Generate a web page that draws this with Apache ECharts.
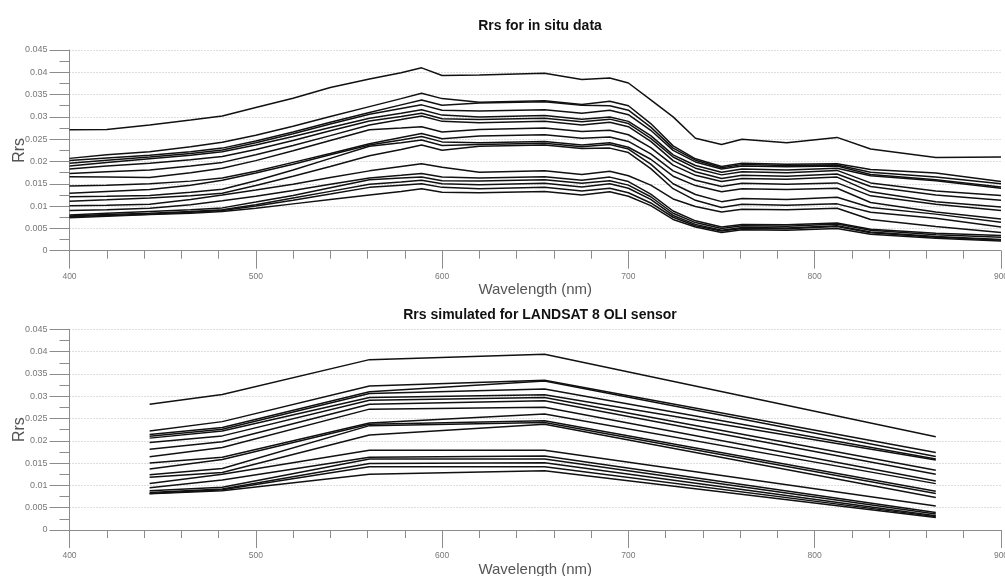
<!DOCTYPE html>
<html>
<head>
<meta charset="utf-8">
<script src="https://cdn.jsdelivr.net/npm/echarts@6/dist/echarts.min.js"></script>
<style>
html,body{margin:0;padding:0;background:#fff;}
#chart{width:1005px;height:576px;}
</style>
</head>
<body>
<div id="chart"></div>
<script>
// ---- Data ----
const titleTop = 'Rrs for in situ data';
const titleBottom = 'Rrs simulated for LANDSAT 8 OLI sensor';
const xName = 'Wavelength (nm)';
const yName = 'Rrs';

// in situ spectra: wavelengths (nm)
const wavelengths = [400,420,443,465,482,500,520,540,561,578,589,600,620,655,675,690,700,712,724,736,750,761,785,812,830,865,900];
const spec01 = [.0271,.0272,.0282,.0293,.0302,.0321,.0342,.0366,.0385,.0399,.0410,.0393,.0394,.0398,.0384,.0387,.0376,.0338,.0300,.0252,.0238,.0250,.0242,.0254,.0228,.0209,.0210];
const spec02 = [.0207,.0215,.0222,.0233,.0243,.0259,.0279,.0301,.0323,.0341,.0353,.0341,.0333,.0336,.0328,.0335,.0325,.0285,.0235,.0206,.0189,.0196,.0194,.0195,.0182,.0174,.0155];
const spec03 = [.0202,.0208,.0214,.0222,.0230,.0246,.0266,.0288,.0310,.0327,.0338,.0326,.0331,.0334,.0326,.0325,.0315,.0277,.0230,.0203,.0186,.0193,.0191,.0192,.0176,.0165,.0150];
const spec04 = [.0196,.0203,.0210,.0218,.0226,.0242,.0262,.0284,.0306,.0319,.0327,.0315,.0313,.0316,.0308,.0315,.0305,.0270,.0225,.0199,.0183,.0190,.0188,.0190,.0171,.0159,.0143];
const spec05 = [.0190,.0198,.0206,.0214,.0222,.0237,.0256,.0276,.0297,.0308,.0316,.0304,.0300,.0303,.0295,.0300,.0290,.0258,.0215,.0191,.0176,.0183,.0181,.0185,.0168,.0157,.0140];
const spec06 = [.0183,.0190,.0196,.0204,.0211,.0227,.0247,.0269,.0291,.0301,.0308,.0296,.0294,.0297,.0289,.0295,.0285,.0252,.0210,.0185,.0170,.0177,.0175,.0180,.0152,.0134,.0124];
const spec07 = [.0173,.0177,.0181,.0190,.0198,.0215,.0236,.0258,.0282,.0294,.0302,.0290,.0287,.0290,.0282,.0288,.0278,.0245,.0202,.0177,.0162,.0169,.0167,.0172,.0144,.0125,.0113];
const spec08 = [.0166,.0165,.0164,.0175,.0185,.0202,.0224,.0247,.0271,.0275,.0278,.0266,.0272,.0275,.0267,.0270,.0260,.0231,.0192,.0169,.0155,.0162,.0160,.0165,.0132,.0110,.0098];
const spec09 = [.0145,.0147,.0150,.0156,.0163,.0178,.0198,.0218,.0240,.0254,.0263,.0251,.0257,.0260,.0252,.0255,.0245,.0217,.0179,.0158,.0144,.0151,.0149,.0152,.0123,.0104,.0090];
const spec10 = [.0129,.0133,.0137,.0147,.0158,.0174,.0194,.0215,.0237,.0248,.0256,.0244,.0242,.0245,.0237,.0242,.0232,.0205,.0167,.0146,.0132,.0139,.0137,.0140,.0108,.0087,.0071];
const spec11 = [.0121,.0122,.0124,.0131,.0138,.0157,.0181,.0207,.0234,.0242,.0248,.0236,.0238,.0241,.0233,.0238,.0228,.0194,.0150,.0126,.0110,.0117,.0115,.0120,.0097,.0082,.0064];
const spec12 = [.0111,.0114,.0118,.0123,.0129,.0146,.0167,.0189,.0213,.0227,.0237,.0225,.0234,.0237,.0229,.0230,.0220,.0184,.0139,.0113,.0097,.0104,.0102,.0105,.0086,.0073,.0053];
const spec13 = [.0101,.0102,.0104,.0115,.0125,.0136,.0149,.0164,.0179,.0189,.0195,.0187,.0176,.0179,.0171,.0178,.0168,.0147,.0116,.0099,.0087,.0093,.0092,.0095,.0070,.0054,.0041];
const spec14 = [.0090,.0092,.0095,.0103,.0112,.0122,.0135,.0149,.0163,.0169,.0173,.0165,.0163,.0166,.0158,.0165,.0155,.0127,.0089,.0067,.0053,.0059,.0058,.0062,.0048,.0039,.0034];
const spec15 = [.0080,.0084,.0088,.0092,.0096,.0109,.0124,.0141,.0159,.0163,.0165,.0157,.0156,.0159,.0151,.0157,.0147,.0121,.0084,.0063,.0050,.0056,.0055,.0060,.0046,.0036,.0030];
const spec16 = [.0078,.0081,.0084,.0088,.0092,.0103,.0118,.0133,.0149,.0154,.0158,.0150,.0148,.0151,.0143,.0150,.0140,.0115,.0079,.0059,.0046,.0052,.0051,.0056,.0042,.0032,.0025];
const spec17 = [.0076,.0079,.0082,.0086,.0090,.0100,.0113,.0127,.0142,.0147,.0150,.0142,.0139,.0142,.0134,.0140,.0130,.0107,.0075,.0056,.0044,.0050,.0049,.0054,.0040,.0030,.0024];
const spec18 = [.0074,.0077,.0081,.0084,.0088,.0095,.0105,.0115,.0125,.0133,.0139,.0131,.0130,.0133,.0125,.0132,.0122,.0101,.0070,.0053,.0041,.0047,.0046,.0050,.0037,.0028,.0022];

// LANDSAT 8 OLI band centres (nm) and simulated Rrs
const oliBands = [443, 482, 561, 655, 865];
const oli01 = [.0282,.0304,.0382,.0394,.0209];
const oli02 = [.0222,.0243,.0323,.0336,.0174];
const oli03 = [.0214,.0230,.0310,.0334,.0165];
const oli04 = [.0210,.0226,.0306,.0316,.0159];
const oli05 = [.0206,.0222,.0297,.0303,.0157];
const oli06 = [.0196,.0211,.0291,.0297,.0134];
const oli07 = [.0181,.0198,.0282,.0290,.0125];
const oli08 = [.0164,.0185,.0271,.0275,.0110];
const oli09 = [.0150,.0163,.0240,.0260,.0104];
const oli10 = [.0137,.0158,.0237,.0245,.0087];
const oli11 = [.0124,.0138,.0234,.0241,.0082];
const oli12 = [.0118,.0129,.0213,.0237,.0073];
const oli13 = [.0104,.0125,.0179,.0179,.0054];
const oli14 = [.0095,.0112,.0163,.0166,.0039];
const oli15 = [.0088,.0096,.0159,.0159,.0036];
const oli16 = [.0084,.0092,.0149,.0151,.0032];
const oli17 = [.0082,.0090,.0142,.0142,.0030];
const oli18 = [.0081,.0088,.0125,.0133,.0028];

const spectra = [spec01,spec02,spec03,spec04,spec05,spec06,spec07,spec08,spec09,spec10,spec11,spec12,spec13,spec14,spec15,spec16,spec17,spec18];
const oliSeries = [oli01,oli02,oli03,oli04,oli05,oli06,oli07,oli08,oli09,oli10,oli11,oli12,oli13,oli14,oli15,oli16,oli17,oli18];

// ---- Chart ----
const chart = echarts.init(document.getElementById('chart'), null, {renderer: 'canvas'});
const FONT = 'Liberation Sans, Arial, sans-serif';
const axisGray = '#8c8c8c';

function xAxisFor(gi) {
  return {
    type: 'value', gridIndex: gi, min: 400, max: 900, interval: 100,
    name: xName, nameLocation: 'middle', nameGap: 32, nameMoveOverlap: false,
    nameTextStyle: {fontFamily: FONT, fontSize: 15, color: '#555'},
    axisLine: {show: true, lineStyle: {color: axisGray, width: 1}},
    axisTick: {show: true, inside: false, length: 18, lineStyle: {color: axisGray}},
    minorTick: {show: true, splitNumber: 5, length: 8, lineStyle: {color: axisGray}},
    axisLabel: {fontFamily: FONT, fontSize: 8.5, color: '#777', margin: 21},
    splitLine: {show: false}
  };
}
function yAxisFor(gi) {
  return {
    type: 'value', gridIndex: gi, min: 0, max: 0.045, interval: 0.005,
    name: yName, nameLocation: 'middle', nameGap: 42, nameRotate: 90, nameMoveOverlap: false,
    nameTextStyle: {fontFamily: FONT, fontSize: 16, color: '#555'},
    axisLine: {show: true, lineStyle: {color: axisGray, width: 1}},
    axisTick: {show: true, inside: false, length: 20, lineStyle: {color: axisGray}},
    minorTick: {show: true, splitNumber: 2, length: 10, lineStyle: {color: axisGray}},
    axisLabel: {fontFamily: FONT, fontSize: 9, color: '#777', margin: 22,
      formatter: v => String(parseFloat(v.toFixed(4)))},
    splitLine: {show: true, lineStyle: {color: '#bdbdbd', type: [1, 2], width: 1}}
  };
}

const series = [];
spectra.forEach((arr, k) => {
  series.push({
    type: 'line', xAxisIndex: 0, yAxisIndex: 0, name: 'insitu' + (k + 1),
    data: wavelengths.map((w, i) => [w, arr[i]]),
    showSymbol: false, symbol: 'none', smooth: false,
    lineStyle: {color: '#111', width: 1.5}, silent: true, animation: false
  });
});
oliSeries.forEach((arr, k) => {
  series.push({
    type: 'line', xAxisIndex: 1, yAxisIndex: 1, name: 'oli' + (k + 1),
    data: oliBands.map((w, i) => [w, arr[i]]),
    showSymbol: false, symbol: 'none', smooth: false,
    lineStyle: {color: '#111', width: 1.5}, silent: true, animation: false
  });
});

chart.setOption({
  animation: false,
  backgroundColor: '#fff',
  title: [
    {text: titleTop, left: 535, top: 14, textAlign: 'center',
     textStyle: {fontFamily: FONT, fontSize: 14, fontWeight: 'bold', color: '#111'}},
    {text: titleBottom, left: 535, top: 303, textAlign: 'center',
     textStyle: {fontFamily: FONT, fontSize: 14, fontWeight: 'bold', color: '#111'}}
  ],
  grid: [
    {left: 69.5, top: 50, width: 931.5, height: 200.7, containLabel: false, outerBoundsMode: 'none'},
    {left: 69.5, top: 329.3, width: 931.5, height: 200.7, containLabel: false, outerBoundsMode: 'none'}
  ],
  xAxis: [xAxisFor(0), xAxisFor(1)],
  yAxis: [yAxisFor(0), yAxisFor(1)],
  series: series
});
</script>
</body>
</html>
